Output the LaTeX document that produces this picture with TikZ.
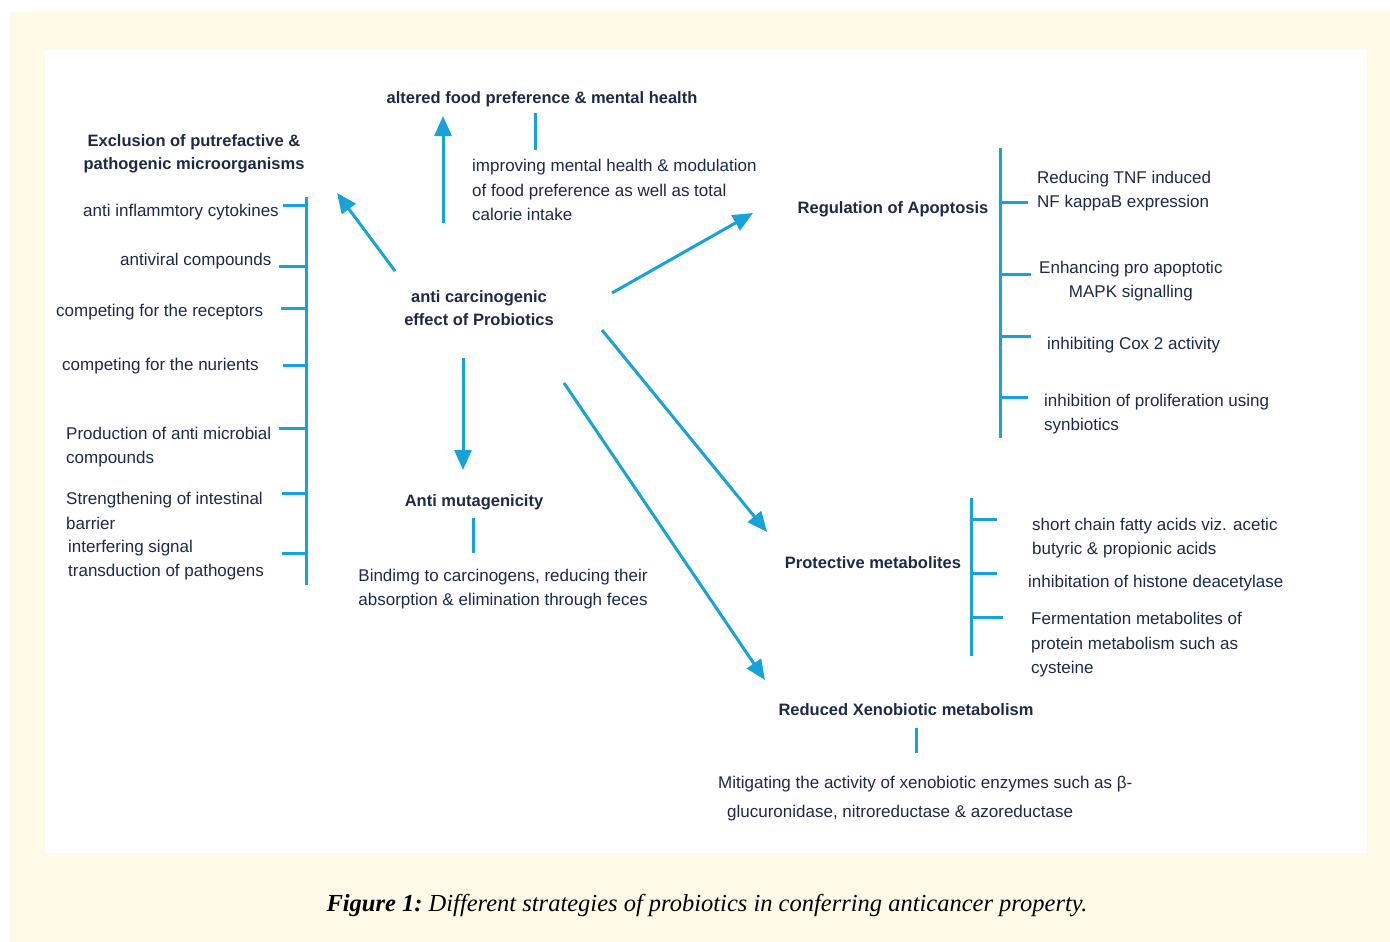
\documentclass[tikz,border=0pt]{standalone}
\usepackage{fontspec}
\setmainfont{Liberation Sans}
\newfontfamily\capfont{Liberation Serif}
\usetikzlibrary{arrows.meta}
\usepackage{xcolor}
\definecolor{pNavy}{HTML}{1C2A4A}
\definecolor{pBlue}{HTML}{18A2DA}
\definecolor{pCream}{HTML}{FFFAE8}

\begin{document}
\begin{tikzpicture}[x=1pt, y=-1pt, every node/.style={inner sep=0pt, text=pNavy, yshift=-2pt},
  head/.style={font=\fontsize{16.5}{23.5}\selectfont\bfseries, align=center},
  item/.style={font=\fontsize{17}{24.5}\selectfont, align=left, anchor=west},
  arr/.style={-{Triangle[length=20pt, width=17pt]}, line width=3pt, pBlue},
  rail/.style={line width=3pt, pBlue}]
  % page and panel
  \useasboundingbox (0,0) rectangle (1390,942);
  \fill[pCream] (10,12) rectangle (1390,942);
  \fill[white] (45,50) rectangle (1367,853);
  % headings
  \node[head] (core) at (479,306) {anti carcinogenic\\effect of Probiotics};
  \node[head] (food) at (542,97) {altered food preference \& mental health};
  \node[head] (excl) at (194,152) {Exclusion of putrefactive \&\\pathogenic microorganisms};
  \node[head] (apop) at (893,207) {Regulation of Apoptosis};
  \node[head] (muta) at (474,500) {Anti mutagenicity};
  \node[head] (prot) at (873,561) {Protective metabolites};
  \node[head] (xeno) at (906,708) {Reduced Xenobiotic metabolism};
  % arrows out of the centre
  \draw[arr] ([shift={(-36,-85)}]core.center) -- ([shift={(-99,17)}]food.center);
  \draw[arr] ([shift={(-84,-37)}]core.center) -- ([shift={(143,39)}]excl.center);
  \draw[arr] ([shift={(133,-15)}]core.center) -- ([shift={(-140,4)}]apop.center);
  \draw[arr] ([shift={(-16,50)}]core.center) -- ([shift={(-11,-32)}]muta.center);
  \draw[arr] ([shift={(123,22)}]core.center) -- ([shift={(-106,-31)}]prot.center);
  \draw[arr] ([shift={(85,75)}]core.center) -- ([shift={(-141,-30)}]xeno.center);
  % exclusion list
  \node[item] (cyto) at (83,210) {anti inflammtory cytokines};
  \node[item] (viral) at (120,259) {antiviral compounds};
  \node[item] (recep) at (56,310) {competing for the receptors};
  \node[item] (nutr) at (62,364) {competing for the nurients};
  \node[item] (micro) at (66,445) {Production of anti microbial\\compounds};
  \node[item] (barr) at (66,509) {Strengthening of intestinal\\barrier};
  \node[item] (signal) at (68,558) {interfering signal\\transduction of pathogens};
  \draw[rail] (306,197) -- (306,585);
  \foreach \y/\x in {205/283, 266/279, 308/281, 365/283, 428/279, 493/282, 553/282}
    \draw[rail] (\x,\y) -- (306,\y);
  % food preference
  \node[item] (mood) at (472,188) {improving mental health \& modulation\\of food preference as well as total\\calorie intake};
  \draw[rail] ([shift={(-7,6)}]food.south) -- ++(0,37);
  % apoptosis list
  \node[item] (tnf) at (1037,189) {Reducing TNF induced\\NF kappaB expression};
  \node[item, align=center] (mapk) at (1039,279) {Enhancing pro apoptotic\\MAPK signalling};
  \node[item] (cox) at (1047,343) {inhibiting Cox 2 activity};
  \node[item] (prolif) at (1044,412) {inhibition of proliferation using\\synbiotics};
  \draw[rail] (1000,148) -- (1000,438);
  \foreach \y/\x in {202/1028, 274/1031, 336/1031, 397/1028}
    \draw[rail] (1000,\y) -- (\x,\y);
  % metabolites list
  \node[item] (scfa) at (1032,536) {short chain fatty acids viz. acetic\\butyric \& propionic acids};
  \node[item] (hdac) at (1028,581) {inhibitation of histone deacetylase};
  \node[item] (ferm) at (1031,643) {Fermentation metabolites of\\protein metabolism such as\\cysteine};
  \draw[rail] (971,498) -- (971,656);
  \foreach \y/\x in {519/997, 573/997, 617/1003}
    \draw[rail] (971,\y) -- (\x,\y);
  % anti mutagenicity
  \node[item, align=center, anchor=center] (bind) at (503,587) {Bindimg to carcinogens, reducing their\\absorption \& elimination through feces};
  \draw[rail] ([shift={(-1,8)}]muta.south) -- ++(0,35);
  % xenobiotics
  \node[item, font=\fontsize{17}{29}\selectfont] (enz) at (718,797) {Mitigating the activity of xenobiotic enzymes such as β-\\\hspace{9pt}glucuronidase, nitroreductase \& azoreductase};
  \draw[rail] ([shift={(10,12)}]xeno.south) -- ++(0,25);
  % caption
  \node[text=black, font=\capfont\fontsize{24.5}{28}\selectfont\itshape] (cap) at (707,904)
    {\textbf{Figure 1:}\hspace{-2pt} Different strategies of probiotics in conferring anticancer property.};
\end{tikzpicture}
\end{document}
